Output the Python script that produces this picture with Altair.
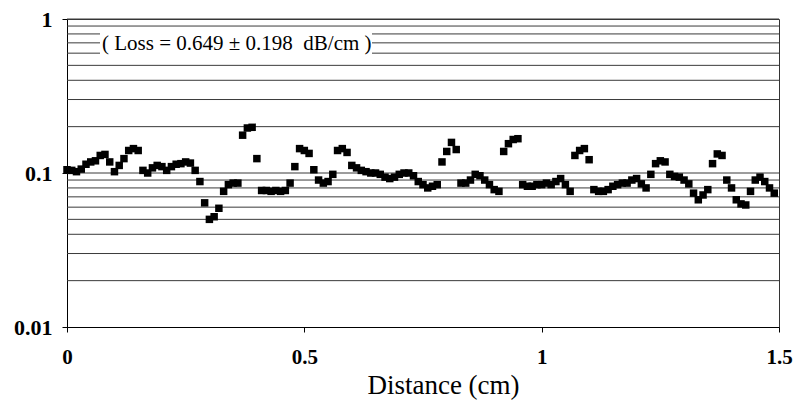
import altair as alt
import pandas as pd

distance = [round(i * 0.01, 2) for i in range(150)]
value = [
    0.105, 0.104, 0.102, 0.106, 0.114, 0.118, 0.120, 0.130, 0.132, 0.118,
    0.102, 0.112, 0.124, 0.140, 0.144, 0.140, 0.104, 0.100, 0.108, 0.112,
    0.110, 0.104, 0.110, 0.114, 0.115, 0.118, 0.116, 0.104, 0.088, 0.064,
    0.050, 0.052, 0.059, 0.076, 0.084, 0.086, 0.086, 0.176, 0.196, 0.198,
    0.124, 0.077, 0.077, 0.076, 0.077, 0.076, 0.077, 0.086, 0.110, 0.144,
    0.140, 0.134, 0.105, 0.090, 0.086, 0.088, 0.098, 0.140, 0.144, 0.136,
    0.112, 0.108, 0.104, 0.102, 0.100, 0.100, 0.098, 0.094, 0.092, 0.094,
    0.098, 0.100, 0.100, 0.096, 0.088, 0.084, 0.080, 0.082, 0.084, 0.118,
    0.138, 0.158, 0.142, 0.086, 0.086, 0.090, 0.098, 0.096, 0.090, 0.084,
    0.078, 0.076, 0.138, 0.155, 0.165, 0.167, 0.084, 0.082, 0.082, 0.084,
    0.084, 0.086, 0.084, 0.088, 0.092, 0.084, 0.076, 0.130, 0.140, 0.144,
    0.122, 0.078, 0.076, 0.076, 0.078, 0.082, 0.084, 0.086, 0.086, 0.090,
    0.092, 0.085, 0.080, 0.098, 0.115, 0.120, 0.118, 0.098, 0.095, 0.094,
    0.090, 0.085, 0.074, 0.067, 0.072, 0.078, 0.115, 0.133, 0.130, 0.090,
    0.080, 0.067, 0.063, 0.062, 0.076, 0.090, 0.094, 0.088, 0.080, 0.074,
]

grid_values = [0.01 * k for k in range(2, 10)] + [0.1 * k for k in range(1, 10)] + [1.0]
y_ticks = [0.01, 0.1, 1]
x_ticks = [0, 0.5, 1, 1.5]
annotation = "( Loss = 0.649 \u00b1 0.198\u00a0 dB/cm )"

FONT = "Liberation Serif"

df = pd.DataFrame({"distance": distance, "value": value})
grid_df = pd.DataFrame({"g": grid_values})

xscale = alt.Scale(domain=[0, 1.5], nice=False, zero=False)
yscale = alt.Scale(type="log", domain=[0.01, 1], nice=False)

yaxis = alt.Axis(values=y_ticks, format="~g", title=None, grid=False,
                 domainColor="black", tickColor="black", tickSize=5,
                 labelPadding=10, labelFontSize=22, labelFlush=False)
xaxis = alt.Axis(values=x_ticks, format="~g", title="Distance (cm)", grid=False,
                 domainColor="black", tickColor="black", tickSize=5,
                 labelPadding=14, titlePadding=5, labelFlush=False,
                 titleX=376, titleFontSize=27)

grid = alt.Chart(grid_df).mark_rule(color="#3a3a3a", strokeWidth=1).encode(
    y=alt.Y("g:Q", scale=yscale, axis=yaxis)
)

box = alt.Chart(pd.DataFrame({"t": [annotation]})).mark_rect(color="white").encode(
    x=alt.value(33), x2=alt.value(305), y=alt.value(10), y2=alt.value(38)
)

label = alt.Chart(pd.DataFrame({"t": [annotation]})).mark_text(
    font=FONT, fontSize=21, color="black", align="left", baseline="middle"
).encode(
    x=alt.value(35), y=alt.value(25), text="t:N"
)

points = alt.Chart(df).mark_square(size=56, color="black", opacity=1, filled=True).encode(
    x=alt.X("distance:Q", scale=xscale, axis=xaxis),
    y=alt.Y("value:Q", scale=yscale, axis=yaxis),
)

chart = alt.layer(grid, box, label, points).properties(
    width=712, height=308,
    autosize=alt.AutoSizeParams(type="none"),
    padding={"left": 59, "top": 11, "right": 14, "bottom": 76},
).configure_view(
    stroke="#333333", strokeWidth=1
).configure_axis(
    labelFont=FONT, labelFontSize=21, labelColor="black", labelFontWeight="bold",
    titleFont=FONT, titleFontSize=27, titleColor="black", titleFontWeight="normal",
)

chart.save("out.html", embed_options={"renderer": "svg", "actions": False})
